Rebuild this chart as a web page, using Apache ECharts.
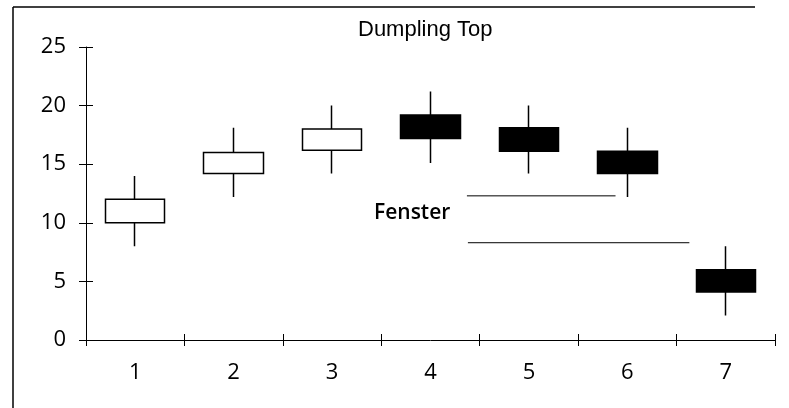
<!DOCTYPE html>
<html>
<head>
<meta charset="utf-8">
<script src="https://cdn.jsdelivr.net/npm/echarts@6/dist/echarts.min.js"></script>
<style>html,body{margin:0;padding:0;background:#fff}#c{width:789px;height:408px}</style>
</head>
<body>
<div id="c"></div>
<script>
const categories = ['1', '2', '3', '4', '5', '6', '7'];
const opens  = [10, 14.2, 16.2, 19.2, 18.1, 16.1, 6];
const closes = [12, 16, 18, 17.2, 16.1, 14.2, 4.1];
const lows   = [8, 12.2, 14.2, 15.1, 14.2, 12.2, 2.1];
const highs  = [14, 18.1, 20, 21.2, 20, 18.1, 8];
const yTicks = [0, 5, 10, 15, 20, 25];
const upperLine = [[4.37, 12.3], [5.88, 12.3]];
const lowerLine = [[4.38, 8.3], [6.63, 8.3]];
const labelTop = 'Dumpling Top';
const labelWindow = 'Fenster';

const candleData = categories.map((c, i) => [opens[i], closes[i], lows[i], highs[i]]);
const chart = echarts.init(document.getElementById('c'), null, {renderer: 'canvas'});
const axisFont = {fontFamily: 'Open Sans', fontSize: 22, color: '#000'};
chart.setOption({
  animation: false,
  backgroundColor: '#fff',
  title: [
    {text: labelTop, left: 358, top: 19, padding: 0,
     textStyle: {fontFamily: 'Liberation Sans', fontSize: 22, fontWeight: 'normal', color: '#000'}},
    {text: labelWindow, left: 374, top: 203, padding: 0,
     textStyle: {fontFamily: 'Open Sans', fontSize: 21, fontWeight: 600, color: '#000'}}
  ],
  grid: {left: 86, right: 14, top: 47, bottom: 68},
  xAxis: [
    {type: 'category', data: categories, boundaryGap: true,
     axisLine: {lineStyle: {color: '#000', width: 1}},
     axisTick: {show: true, length: 6, lineStyle: {color: '#000'}},
     axisLabel: Object.assign({margin: 22}, axisFont),
     splitLine: {show: false}},
    {type: 'value', min: 0.5, max: 7.5, show: false},
    {type: 'category', data: categories, boundaryGap: true, position: 'bottom',
     axisLine: {show: false},
     axisTick: {show: true, inside: true, length: 6, lineStyle: {color: '#000'}},
     axisLabel: {show: false}, splitLine: {show: false}}
  ],
  yAxis: [
    {type: 'value', min: yTicks[0], max: yTicks[yTicks.length - 1], interval: 5,
     axisLine: {show: true, lineStyle: {color: '#000', width: 1}},
     axisTick: {show: true, length: 7, lineStyle: {color: '#000'}},
     axisLabel: Object.assign({margin: 20}, axisFont),
     splitLine: {show: false}},
    {type: 'value', min: yTicks[0], max: yTicks[yTicks.length - 1], interval: 5, position: 'left',
     axisLine: {show: false},
     axisTick: {show: true, inside: true, length: 7, lineStyle: {color: '#000'}},
     axisLabel: {show: false}, splitLine: {show: false}}
  ],
  series: [
    {type: 'candlestick', xAxisIndex: 0, yAxisIndex: 0, data: candleData, barWidth: 60,
     itemStyle: {color: '#fff', color0: '#000', borderColor: '#000', borderColor0: '#000', borderWidth: 1.5}},
    {type: 'line', xAxisIndex: 1, yAxisIndex: 0, data: upperLine, symbol: 'none',
     lineStyle: {color: '#000', width: 1}},
    {type: 'line', xAxisIndex: 1, yAxisIndex: 0, data: lowerLine, symbol: 'none',
     lineStyle: {color: '#000', width: 1}}
  ],
  graphic: [
    {type: 'line', shape: {x1: 13, y1: 7, x2: 13, y2: 408}, style: {stroke: '#000', lineWidth: 1.5}},
    {type: 'line', shape: {x1: 13, y1: 7, x2: 755, y2: 7}, style: {stroke: '#000', lineWidth: 1.5}}
  ]
});
</script>
</body>
</html>
